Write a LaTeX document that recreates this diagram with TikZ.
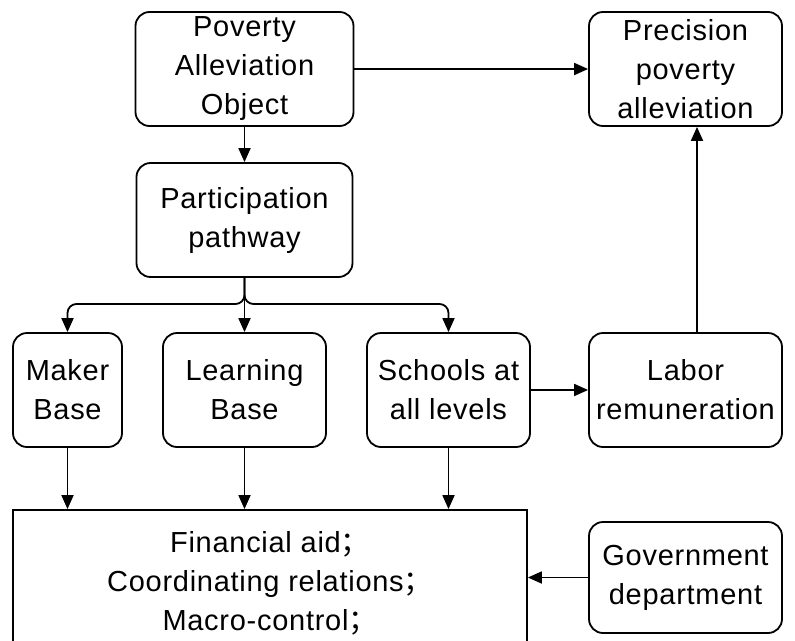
\documentclass[tikz,border=0pt]{standalone}
\usepackage{fontspec}
\setmainfont{Liberation Sans}[LetterSpace=2.5]
\newfontfamily\cjk{Noto Sans CJK SC}
\usetikzlibrary{arrows.meta}
\tikzset{
  box/.style={draw, line width=1.8pt, rounded corners=14pt, align=center,
    inner sep=0pt, font=\fontsize{29}{39}\selectfont},
  sqbox/.style={draw, line width=1.8pt, align=center, inner sep=0pt,
    font=\fontsize{29}{39}\selectfont},
  arr/.style={line width=1.8pt, -{Triangle[length=14pt,width=12pt]}}
}
\begin{document}
\begin{tikzpicture}[x=1pt,y=-1pt]
\clip (0,0) rectangle (795,640);
\fill[white] (0,0) rectangle (795,640);
\node[box, minimum width=218pt, minimum height=114pt] (pao) at (244.5,69) {Poverty\\Alleviation\\Object};
\node[box, minimum width=193pt, minimum height=114pt] (ppa) at (685.5,69) {Precision\\poverty\\alleviation};
\node[box, minimum width=216pt, minimum height=114pt] (pp) at (244.5,220) {Participation\\pathway};
\node[box, minimum width=109pt, minimum height=114pt] (mb) at (67.5,390) {Maker\\Base};
\node[box, minimum width=163pt, minimum height=114pt] (lb) at (244.5,390) {Learning\\Base};
\node[box, minimum width=163pt, minimum height=114pt] (sc) at (448.5,390) {Schools at\\all levels};
\node[box, minimum width=193pt, minimum height=114pt] (lr) at (685.5,390) {Labor\\remuneration};
\node[sqbox, minimum width=514pt, minimum height=146pt] (fa) at (270,583) {Financial aid{\cjk ；}\\Coordinating relations{\cjk ；}\\Macro-control{\cjk ；}};
\node[box, minimum width=193pt, minimum height=111pt] (gd) at (685.5,577.5) {Government\\department};
\coordinate (j) at (244.5,304);
\draw[arr] (pao.south) -- (pp.north);
\draw[arr] (pao.east) -- (ppa.west);
\draw[arr, rounded corners=9pt] (pp.south) -- (j) -| (mb.north);
\draw[arr, rounded corners=9pt] (pp.south) -- (j) -| (sc.north);
\draw[arr] (pp.south) -- (lb.north);
\draw[arr] (sc.east) -- (lr.west);
\draw[arr] (lr.north -| 697,0) -- (ppa.south -| 697,0);
\draw[arr] (mb.south) -- (mb.south |- fa.north);
\draw[arr] (lb.south) -- (lb.south |- fa.north);
\draw[arr] (sc.south) -- (sc.south |- fa.north);
\draw[arr] (gd.west) -- (gd.west -| fa.east);
\end{tikzpicture}
\end{document}
